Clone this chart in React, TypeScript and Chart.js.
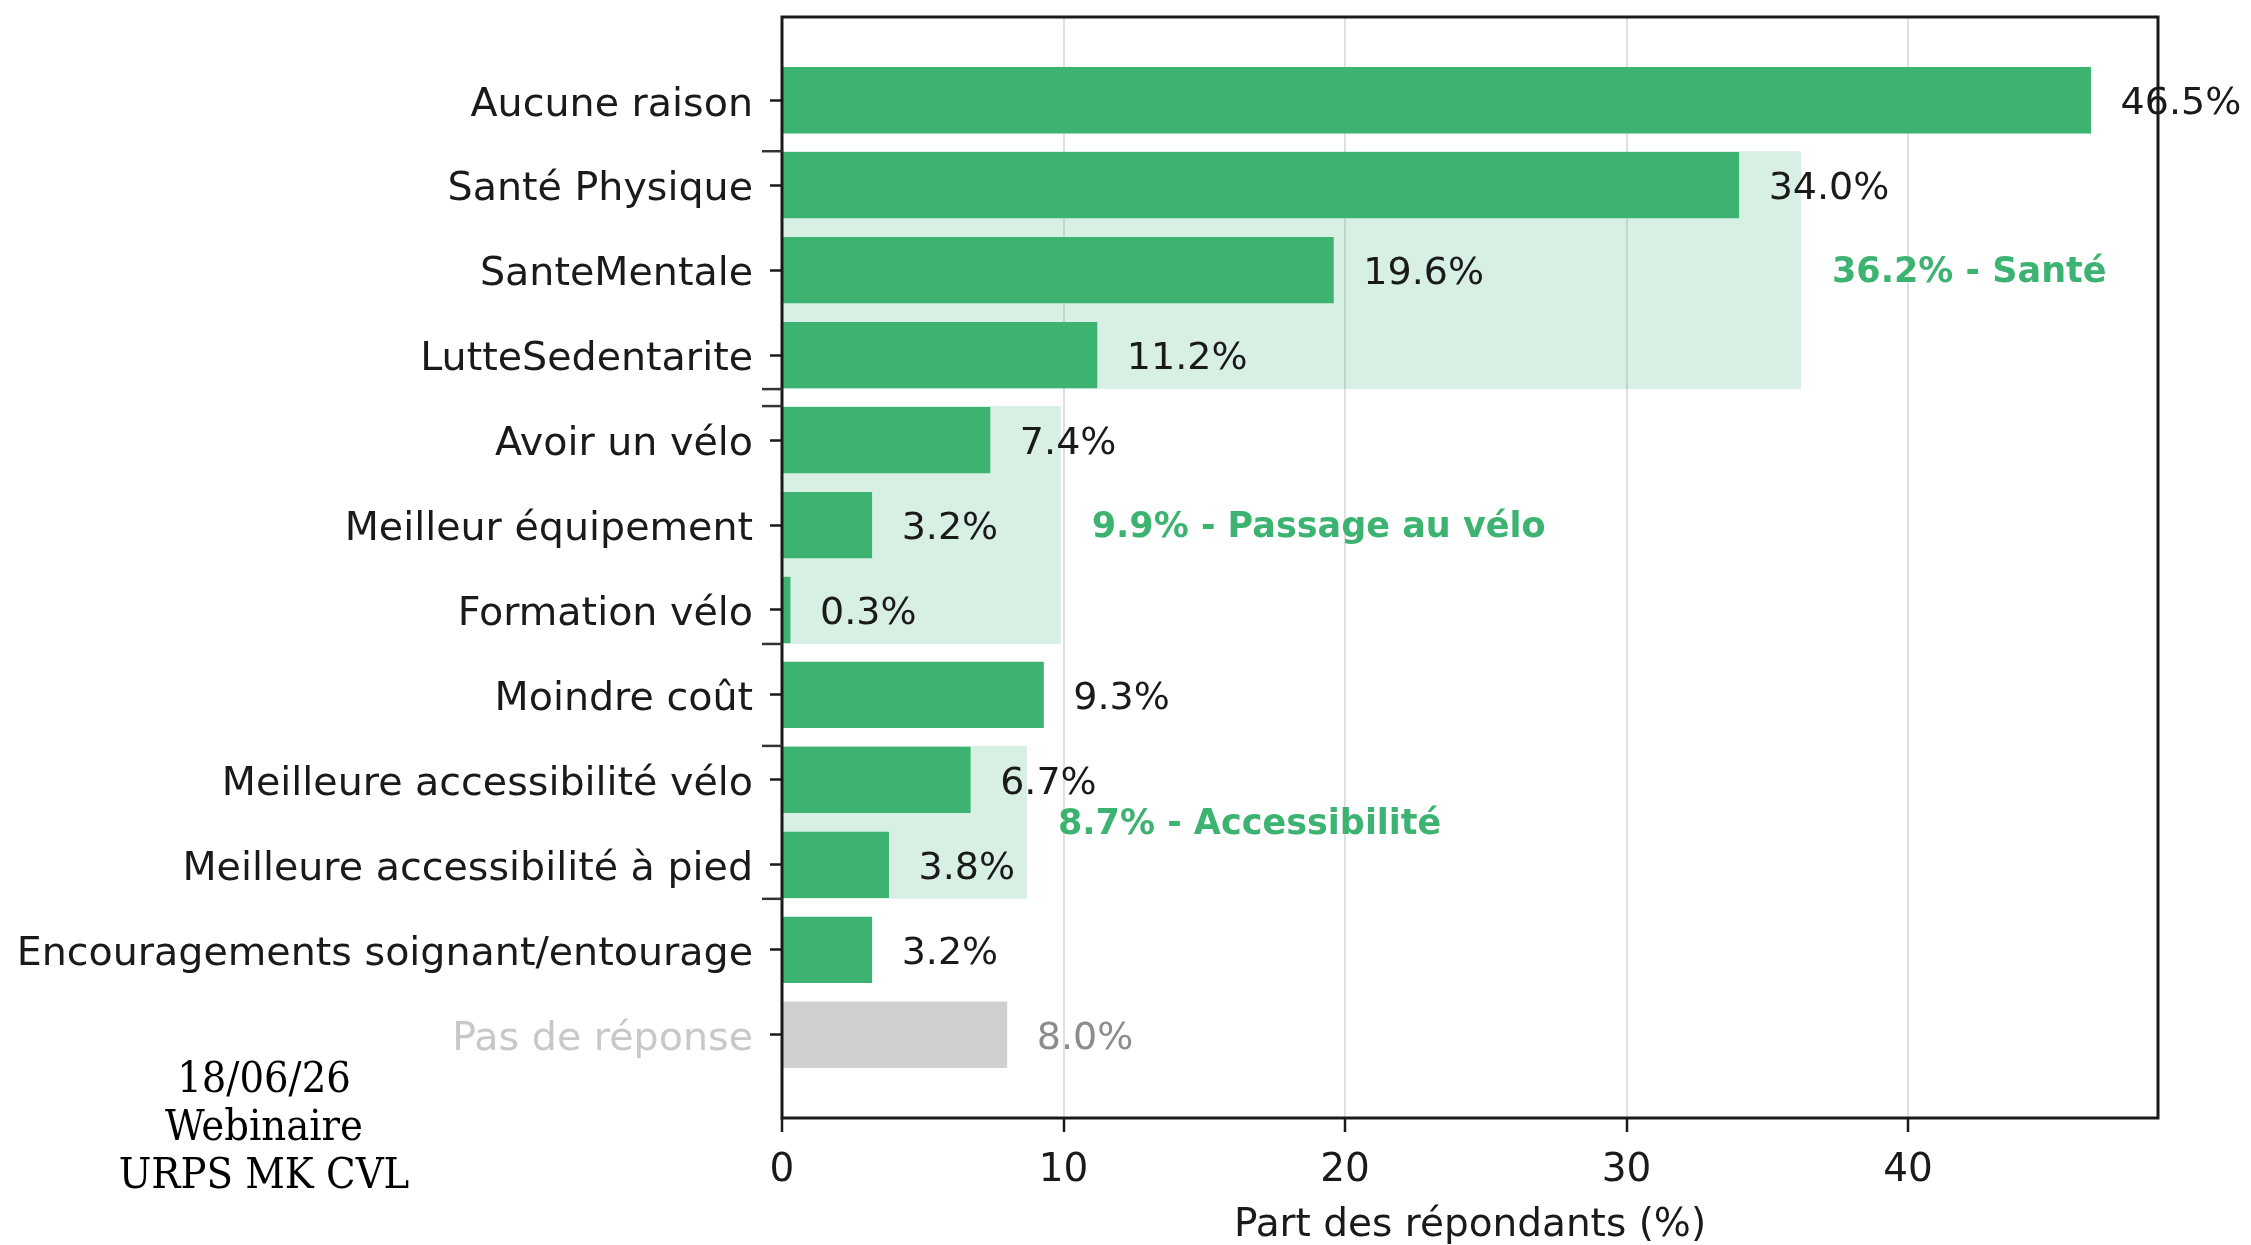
import React, { useEffect, useRef } from 'react';
import { Chart, registerables } from 'chart.js';

Chart.register(...registerables);

const categories = [
  'Aucune raison',
  'Santé Physique',
  'SanteMentale',
  'LutteSedentarite',
  'Avoir un vélo',
  'Meilleur équipement',
  'Formation vélo',
  'Moindre coût',
  'Meilleure accessibilité vélo',
  'Meilleure accessibilité à pied',
  'Encouragements soignant/entourage',
  'Pas de réponse',
];
const values = [46.5, 34.0, 19.6, 11.2, 7.4, 3.2, 0.3, 9.3, 6.7, 3.8, 3.2, 8.0];

const groupNames = ['Santé', 'Passage au vélo', 'Accessibilité'];
const groupStart = [1, 4, 8];
const groupEnd = [3, 6, 9];
const groupTotals = [36.2, 9.9, 8.7];

const xTickValues = [0, 10, 20, 30, 40];
const xMax = 48.88;
const xAxisTitle = 'Part des répondants (%)';
const noteLines = ['18/06/26', 'Webinaire', 'URPS MK CVL'];

const GREEN = '#3CB371';
const GREEN_LIGHT = 'rgba(60,179,113,0.2)';
const GREY_BAR = '#d0d0d0';
const TEXT = '#1a1a1a';

const overlay = {
  id: 'overlay',
  beforeDatasetsDraw(chart: any) {
    const { ctx, scales } = chart;
    const x = scales.x;
    const y = scales.y;
    ctx.save();
    ctx.fillStyle = GREEN_LIGHT;
    groupStart.forEach((s, i) => {
      const top = y.getPixelForValue(s - 0.4);
      const bot = y.getPixelForValue(groupEnd[i] + 0.4);
      const l = x.getPixelForValue(0);
      const r = x.getPixelForValue(groupTotals[i]);
      ctx.fillRect(l, top, r - l, bot - top);
    });
    ctx.restore();
  },
  afterDatasetsDraw(chart: any) {
    const { ctx, scales, chartArea } = chart;
    const x = scales.x;
    const y = scales.y;
    ctx.save();
    // value labels
    ctx.font = '38px "DejaVu Sans"';
    ctx.textBaseline = 'middle';
    ctx.textAlign = 'left';
    values.forEach((v, i) => {
      ctx.fillStyle = i === categories.length - 1 ? '#8c8c8c' : TEXT;
      ctx.fillText(v.toFixed(1) + '%', x.getPixelForValue(v + 1.05), y.getPixelForValue(i) + 4);
    });
    // group labels
    ctx.font = 'bold 35px "DejaVu Sans"';
    ctx.fillStyle = GREEN;
    groupNames.forEach((n, i) => {
      const mid = (groupStart[i] + groupEnd[i]) / 2;
      ctx.fillText(groupTotals[i].toFixed(1) + '% - ' + n, x.getPixelForValue(groupTotals[i] + 1.1), y.getPixelForValue(mid) + 3);
    });
    // spines
    ctx.strokeStyle = TEXT;
    ctx.lineWidth = 3;
    ctx.strokeRect(chartArea.left, chartArea.top, chartArea.right - chartArea.left, chartArea.bottom - chartArea.top);
    // group boundary ticks
    ctx.lineWidth = 2.5;
    ctx.strokeStyle = '#333';
    groupStart.forEach((s, i) => {
      [s - 0.4, groupEnd[i] + 0.4].forEach((p) => {
        const py = y.getPixelForValue(p);
        ctx.beginPath();
        ctx.moveTo(chartArea.left - 20, py);
        ctx.lineTo(chartArea.left, py);
        ctx.stroke();
      });
    });
    ctx.restore();
  },
};

export default function App() {
  const ref = useRef<HTMLCanvasElement>(null);
  useEffect(() => {
    const chart = new Chart(ref.current as HTMLCanvasElement, {
      type: 'bar',
      data: {
        datasets: [
          {
            data: values.map((v, i) => ({ x: v, y: i })),
            backgroundColor: values.map((_, i) => (i === categories.length - 1 ? GREY_BAR : GREEN)),
            borderWidth: 0,
            categoryPercentage: 1,
            barPercentage: 0.78,
          } as any,
        ],
      },
      options: {
        indexAxis: 'y',
        responsive: false,
        animation: false,
        layout: { padding: { left: 0, right: 93, top: 17, bottom: 0 } },
        plugins: { legend: { display: false }, tooltip: { enabled: false } },
        scales: {
          x: {
            type: 'linear',
            position: 'bottom',
            min: 0,
            max: xMax,
            offset: false,
            afterBuildTicks: (s: any) => {
              s.ticks = xTickValues.map((v) => ({ value: v }));
            },
            afterFit: (s: any) => {
              s.height = 127;
              s.paddingLeft = 0;
              s.paddingRight = 0;
            },
            grid: { offset: false, color: '#e0e0e0', lineWidth: 2, drawTicks: true, tickLength: 14, tickColor: TEXT, tickWidth: 2.5 },
            border: { display: false },
            ticks: { font: { family: 'DejaVu Sans', size: 39 }, color: TEXT, padding: 15, callback: (v: any) => String(v) },
            title: { display: true, text: xAxisTitle, font: { family: 'DejaVu Sans', size: 39, lineHeight: 1 }, color: TEXT, padding: 0 },
          },
          y: {
            type: 'linear',
            position: 'left',
            reverse: true,
            min: -0.98,
            max: 11.98,
            offset: false,
            afterBuildTicks: (s: any) => {
              s.ticks = categories.map((_, i) => ({ value: i }));
            },
            afterFit: (s: any) => {
              s.width = 782;
              s.paddingTop = 0;
              s.paddingBottom = 0;
            },
            grid: { offset: false, drawOnChartArea: false, drawTicks: true, tickLength: 12, tickColor: TEXT, tickWidth: 2.5 },
            border: { display: false },
            ticks: {
              autoSkip: false,
              font: { family: 'DejaVu Sans', size: 39.6 },
              color: (c: any) => (c.index === categories.length - 1 ? '#c8c8c8' : TEXT),
              padding: 17,
              labelOffset: 5,
              callback: (v: any) => categories[v] ?? '',
            },
          },
        },
      } as any,
      plugins: [overlay],
    });
    return () => chart.destroy();
  }, []);

  return (
    <div style={{ position: 'fixed', left: 0, top: 0, width: 2251, height: 1245, background: '#fff', overflow: 'hidden' }}>
      <canvas ref={ref} width={2251} height={1245} style={{ display: 'block' }} />
      <div
        style={{
          position: 'absolute',
          left: 0,
          top: 1053,
          width: 528,
          textAlign: 'center',
          fontFamily: "'DejaVu Serif Condensed', 'DejaVu Serif', serif",
          fontStretch: 'condensed',
          fontSize: 43,
          lineHeight: '48px',
          color: '#000',
        }}
      >
        {noteLines.map((l) => (
          <div key={l}>{l}</div>
        ))}
      </div>
    </div>
  );
}
